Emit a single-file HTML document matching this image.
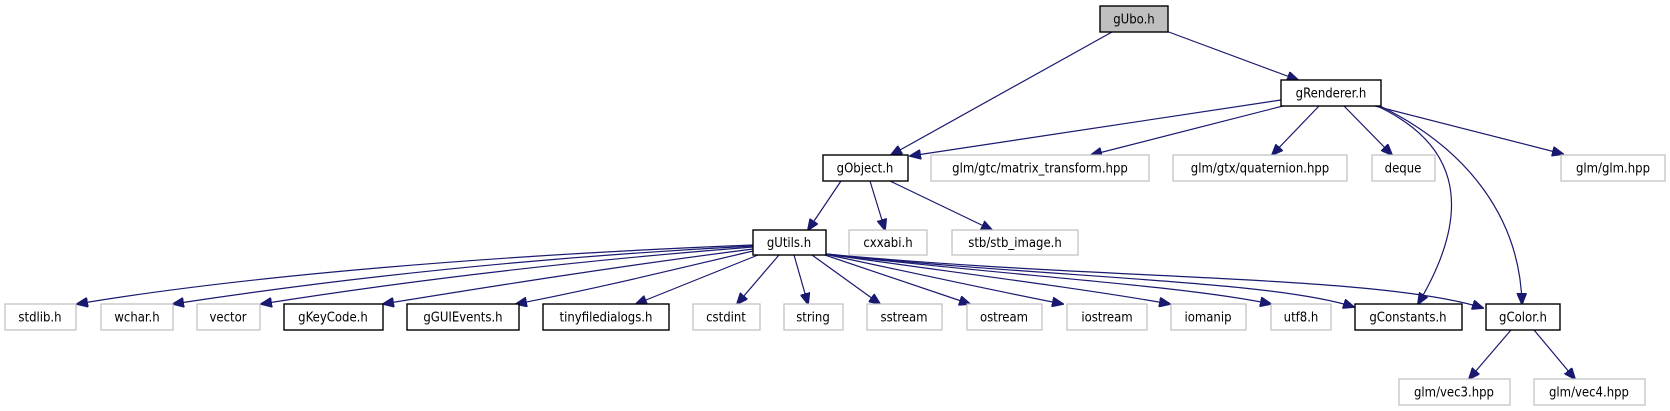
<!DOCTYPE html>
<html><head><meta charset="utf-8"><style>
html,body{margin:0;padding:0;background:#fff;}
svg{display:block;}
text{font-family:"DejaVu Sans Condensed","DejaVu Sans","Liberation Sans",sans-serif;font-size:13px;fill:#000;}
.e{fill:none;stroke:#191970;stroke-width:1.2;marker-end:url(#a);}
.g{fill:#fff;stroke:#bfbfbf;stroke-width:1.2;}
.b{fill:#fff;stroke:#000;stroke-width:1.4;}
</style></head><body>
<svg width="1670" height="411" viewBox="0 0 1670 411" xmlns="http://www.w3.org/2000/svg">
<defs><marker id="a" markerWidth="12" markerHeight="10" refX="11" refY="5" orient="auto" markerUnits="userSpaceOnUse"><path d="M0,0 L12,5 L0,10 z" fill="#191970" stroke="#191970"/></marker></defs>
<path class="e" d="M1112,32 L891,155"/>
<path class="e" d="M1166,31 L1298,80"/>
<path class="e" d="M1281,100 L910,156"/>
<path class="e" d="M1283,106 L1091,155"/>
<path class="e" d="M1319,106 L1272,155"/>
<path class="e" d="M1344,106 L1392,155"/>
<path class="e" d="M1375,106 L1563,154"/>
<path class="e" d="M1377,106 C1450,140 1480,200 1418,304"/>
<path class="e" d="M1380,106 C1470,150 1520,220 1522,304"/>
<path class="e" d="M1511,330 L1469,379"/>
<path class="e" d="M1534,330 L1575,379"/>
<path class="e" d="M841,181 L808,230"/>
<path class="e" d="M870,181 L885,230"/>
<path class="e" d="M890,181 L992,230"/>
<path class="e" d="M753,245 C500,255 250,275 77,304"/>
<path class="e" d="M753,246 C520,258 330,280 173,304"/>
<path class="e" d="M753,247 C560,262 400,282 261,304"/>
<path class="e" d="M753,249 C620,266 500,285 383,304"/>
<path class="e" d="M753,251 C680,268 600,288 516,304"/>
<path class="e" d="M758,255 L636,304"/>
<path class="e" d="M779,255 L737,304"/>
<path class="e" d="M794,255 L808,304"/>
<path class="e" d="M812,255 L880,304"/>
<path class="e" d="M822,254 L970,304"/>
<path class="e" d="M824,254 C900,270 990,290 1063,304"/>
<path class="e" d="M825,254 C950,272 1080,288 1170,304"/>
<path class="e" d="M826,254 C1000,275 1180,285 1271,304"/>
<path class="e" d="M826,254 C1050,278 1270,280 1354,307"/>
<path class="e" d="M826,254 C1100,280 1380,275 1483,308"/>
<rect x="1100" y="6" width="68" height="26" fill="#bfbfbf" stroke="#000" stroke-width="1.4"/><text x="1134" y="23.5" text-anchor="middle">gUbo.h</text>
<rect class="b" x="1281" y="80" width="100" height="26"/><text x="1331" y="97.5" text-anchor="middle">gRenderer.h</text>
<rect class="b" x="823" y="155" width="85" height="26"/><text x="865" y="172.5" text-anchor="middle">gObject.h</text>
<rect class="g" x="931" y="155" width="218" height="26"/><text x="1040" y="172.5" text-anchor="middle">glm/gtc/matrix_transform.hpp</text>
<rect class="g" x="1173" y="155" width="174" height="26"/><text x="1260" y="172.5" text-anchor="middle">glm/gtx/quaternion.hpp</text>
<rect class="g" x="1372" y="155" width="63" height="26"/><text x="1403" y="172.5" text-anchor="middle">deque</text>
<rect class="g" x="1561" y="155" width="104" height="26"/><text x="1613" y="172.5" text-anchor="middle">glm/glm.hpp</text>
<rect class="b" x="753" y="230" width="73" height="25"/><text x="789" y="247" text-anchor="middle">gUtils.h</text>
<rect class="g" x="849" y="230" width="78" height="25"/><text x="888" y="247" text-anchor="middle">cxxabi.h</text>
<rect class="g" x="952" y="230" width="126" height="25"/><text x="1015" y="247" text-anchor="middle">stb/stb_image.h</text>
<rect class="g" x="5" y="304" width="71" height="26"/><text x="40" y="321.5" text-anchor="middle">stdlib.h</text>
<rect class="g" x="101" y="304" width="72" height="26"/><text x="137" y="321.5" text-anchor="middle">wchar.h</text>
<rect class="g" x="197" y="304" width="63" height="26"/><text x="228" y="321.5" text-anchor="middle">vector</text>
<rect class="b" x="284" y="304" width="99" height="26"/><text x="333" y="321.5" text-anchor="middle">gKeyCode.h</text>
<rect class="b" x="407" y="304" width="112" height="26"/><text x="463" y="321.5" text-anchor="middle">gGUIEvents.h</text>
<rect class="b" x="543" y="304" width="126" height="26"/><text x="606" y="321.5" text-anchor="middle">tinyfiledialogs.h</text>
<rect class="g" x="693" y="304" width="67" height="26"/><text x="726" y="321.5" text-anchor="middle">cstdint</text>
<rect class="g" x="784" y="304" width="59" height="26"/><text x="813" y="321.5" text-anchor="middle">string</text>
<rect class="g" x="867" y="304" width="75" height="26"/><text x="904" y="321.5" text-anchor="middle">sstream</text>
<rect class="g" x="967" y="304" width="75" height="26"/><text x="1004" y="321.5" text-anchor="middle">ostream</text>
<rect class="g" x="1067" y="304" width="80" height="26"/><text x="1107" y="321.5" text-anchor="middle">iostream</text>
<rect class="g" x="1171" y="304" width="75" height="26"/><text x="1208" y="321.5" text-anchor="middle">iomanip</text>
<rect class="g" x="1271" y="304" width="60" height="26"/><text x="1301" y="321.5" text-anchor="middle">utf8.h</text>
<rect class="b" x="1355" y="304" width="107" height="26"/><text x="1408" y="321.5" text-anchor="middle">gConstants.h</text>
<rect class="b" x="1486" y="304" width="74" height="26"/><text x="1523" y="321.5" text-anchor="middle">gColor.h</text>
<rect class="g" x="1399" y="379" width="111" height="26"/><text x="1454" y="396.5" text-anchor="middle">glm/vec3.hpp</text>
<rect class="g" x="1534" y="379" width="111" height="26"/><text x="1589" y="396.5" text-anchor="middle">glm/vec4.hpp</text>
</svg>
</body></html>
